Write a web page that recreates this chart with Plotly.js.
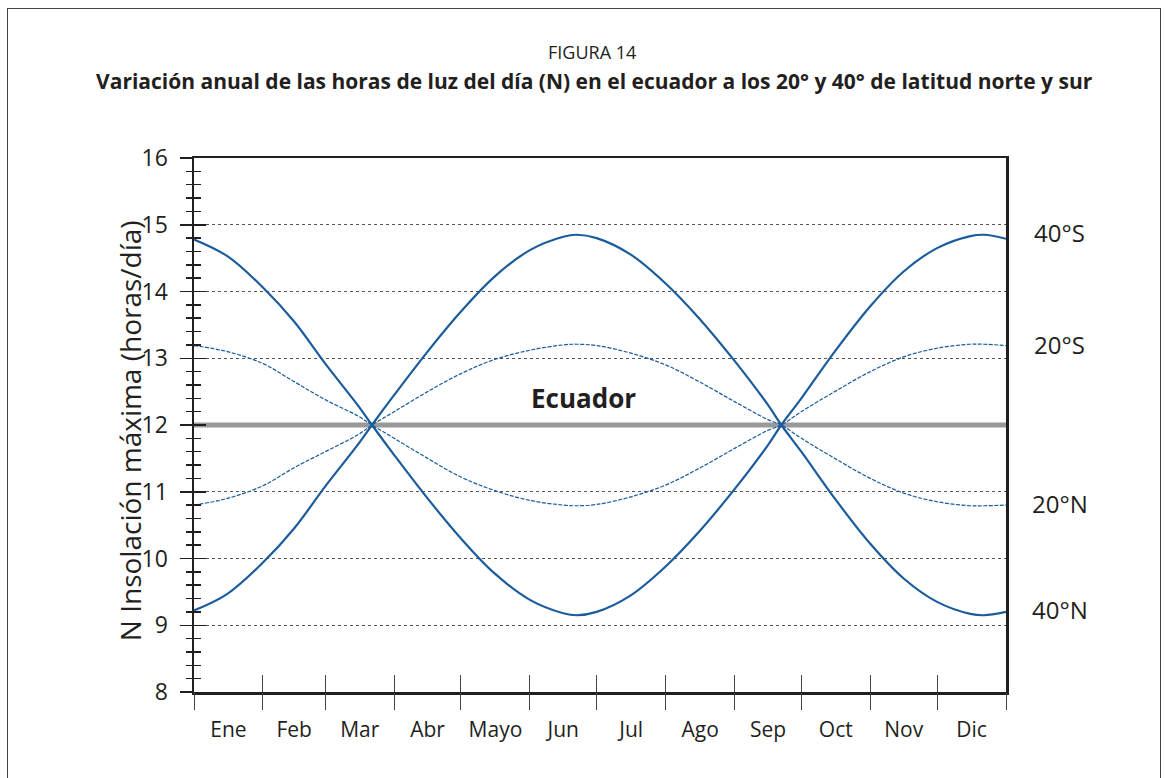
<!DOCTYPE html>
<html>
<head>
<meta charset="utf-8">
<script src="https://cdn.plot.ly/plotly-3.0.1.min.js"></script>
<style>
  html, body { margin: 0; padding: 0; background: #fff; }
  #chart { position: absolute; left: 0; top: 0; width: 1165px; height: 778px; }
  #frame { position: absolute; left: 7px; top: 8px; width: 1152px; height: 780px;
           border-top: 1.5px solid #444; border-left: 1.5px solid #444; border-right: 1.5px solid #444;
           pointer-events: none; }
</style>
</head>
<body>
<div id="chart"></div>
<div id="frame"></div>
<script>
// Day of year (0 = 1 Jan)
const days = [0, 15, 31, 45, 59, 74, 80, 90, 105, 120, 135, 151, 166, 172, 181, 196, 212, 227, 243, 258, 264, 273, 288, 304, 319, 334, 349, 355, 365];

// Daylight hours
const lat40S = [14.78, 14.53, 14.06, 13.55, 12.92, 12.28, 12.0, 11.55, 10.9, 10.3, 9.78, 9.38, 9.18, 9.15, 9.2, 9.44, 9.88, 10.4, 11.04, 11.7, 12.0, 12.4, 13.1, 13.78, 14.3, 14.65, 14.83, 14.85, 14.79];
const lat20S = [13.19, 13.1, 12.92, 12.65, 12.38, 12.13, 12.0, 11.8, 11.5, 11.22, 11.02, 10.87, 10.8, 10.79, 10.81, 10.92, 11.1, 11.35, 11.65, 11.92, 12.0, 12.2, 12.5, 12.8, 13.02, 13.15, 13.21, 13.21, 13.19];
const lat20N = [10.8, 10.9, 11.09, 11.36, 11.6, 11.86, 12.0, 12.2, 12.5, 12.77, 12.98, 13.12, 13.2, 13.21, 13.19, 13.08, 12.9, 12.65, 12.35, 12.08, 12.0, 11.8, 11.5, 11.2, 10.98, 10.85, 10.79, 10.79, 10.8];
const lat40N = [9.22, 9.47, 9.94, 10.45, 11.08, 11.72, 12.0, 12.45, 13.1, 13.7, 14.22, 14.62, 14.82, 14.85, 14.8, 14.56, 14.12, 13.6, 12.96, 12.3, 12.0, 11.6, 10.9, 10.22, 9.7, 9.35, 9.17, 9.15, 9.2];
const equatorDays = [0, 365];
const equator = [12, 12];

// Months
const monthNames = ["Ene", "Feb", "Mar", "Abr", "Mayo", "Jun", "Jul", "Ago", "Sep", "Oct", "Nov", "Dic"];
const monthBounds = [0, 31, 59, 90, 120, 151, 181, 212, 243, 273, 304, 334, 365];
const monthMids = monthBounds.slice(0, 12).map((b, i) => (b + monthBounds[i + 1]) / 2);

// Latitude labels (value where the label sits)
const latLabels = ["40°S", "20°S", "20°N", "40°N"];
const latLabelY = [14.88, 13.2, 10.83, 9.23];

const yTicks = [8, 9, 10, 11, 12, 13, 14, 15, 16];

const blue = "#1b5c9c";
const ink = "#231f20";
const FONT = "Open Sans, Noto Sans, sans-serif";

const traces = [
  { x: equatorDays, y: equator, mode: "lines", line: { color: "#999999", width: 5 }, hoverinfo: "skip" },
  { x: days, y: lat20S, mode: "lines", line: { color: blue, width: 1.2, dash: "4px,1.5px", shape: "spline" } },
  { x: days, y: lat20N, mode: "lines", line: { color: blue, width: 1.2, dash: "4px,1.5px", shape: "spline" } },
  { x: days, y: lat40S, mode: "lines", line: { color: blue, width: 2.2, shape: "spline" } },
  { x: days, y: lat40N, mode: "lines", line: { color: blue, width: 2.2, shape: "spline" } }
];

const annotations = latLabels.map((t, i) => ({
  text: t, xref: "paper", yref: "y", x: 1.066, y: latLabelY[i],
  xanchor: "center", yanchor: "middle", showarrow: false,
  font: { family: FONT, size: 24, color: ink }
}));
annotations.push({
  text: "<b>Ecuador</b>", xref: "x", yref: "y", x: 175, y: 12.4,
  xanchor: "center", yanchor: "middle", showarrow: false,
  font: { family: FONT, size: 26, color: ink }
});
annotations.push({
  text: "N Insolación máxima (horas/día)", xref: "paper", yref: "paper",
  x: -0.079, y: 0.49, textangle: -90, xanchor: "center", yanchor: "middle", showarrow: false,
  font: { family: FONT, size: 28, color: ink }
});
annotations.push({
  text: "FIGURA 14", xref: "paper", yref: "paper", x: 0.49, y: 1.199,
  xanchor: "center", yanchor: "middle", showarrow: false,
  font: { family: FONT, size: 18, color: ink }
});

const baseX = { range: [0, 365], fixedrange: true, showgrid: false, zeroline: false };

const layout = {
  width: 1165, height: 778,
  margin: { l: 194, r: 159, t: 157.5, b: 86 },
  paper_bgcolor: "#ffffff", plot_bgcolor: "#ffffff",
  showlegend: false,
  title: {
    text: "<b>Variación anual de las horas de luz del día (N) en el ecuador a los 20° y 40° de latitud norte y sur</b>",
    xref: "container", x: 0.51, xanchor: "center",
    yref: "container", y: 1 - 82 / 778, yanchor: "middle",
    font: { family: FONT, size: 21, color: ink }
  },
  xaxis: Object.assign({}, baseX, {
    tickmode: "array", tickvals: monthMids, ticktext: monthNames, ticks: "",
    ticklabelstandoff: 17,
    tickfont: { family: FONT, size: 21, color: ink },
    showline: true, linecolor: ink, linewidth: 2.5, mirror: true
  }),
  xaxis2: Object.assign({}, baseX, {
    overlaying: "x", side: "bottom", tickmode: "array", tickvals: monthBounds,
    showticklabels: false, ticks: "outside", ticklen: 17, tickwidth: 1, tickcolor: "#444", showline: false
  }),
  xaxis3: Object.assign({}, baseX, {
    overlaying: "x", side: "bottom", tickmode: "array", tickvals: monthBounds,
    showticklabels: false, ticks: "inside", ticklen: 17, tickwidth: 1, tickcolor: "#444", showline: false
  }),
  yaxis: {
    range: [8, 16], fixedrange: true, tickmode: "array", tickvals: yTicks,
    ticks: "outside", ticklen: 12, tickwidth: 1.5, tickcolor: ink,
    minor: { dtick: 0.2, tick0: 8, ticks: "outside", ticklen: 6, tickwidth: 1.5, tickcolor: ink, showgrid: false },
    ticklabelstandoff: 7,
    tickfont: { family: FONT, size: 23, color: ink },
    showgrid: true, gridcolor: "#555555", gridwidth: 1, griddash: "dot",
    zeroline: false, showline: true, linecolor: ink, linewidth: 2.5, mirror: true
  },
  yaxis2: {
    range: [8, 16], fixedrange: true, overlaying: "y", side: "left",
    tickmode: "array", tickvals: yTicks, showticklabels: false,
    ticks: "inside", ticklen: 12, tickwidth: 1.5, tickcolor: ink,
    minor: { dtick: 0.2, tick0: 8, ticks: "inside", ticklen: 7, tickwidth: 1.5, tickcolor: ink, showgrid: false },
    showgrid: false, zeroline: false, showline: false
  },
  annotations: annotations
};

// Invisible helper traces to activate the overlay tick axes
traces.push({ x: [0], y: [8], xaxis: "x2", yaxis: "y2", mode: "markers", marker: { opacity: 0 }, hoverinfo: "skip" });
traces.push({ x: [0], y: [8], xaxis: "x3", yaxis: "y", mode: "markers", marker: { opacity: 0 }, hoverinfo: "skip" });

Plotly.newPlot("chart", traces, layout, { staticPlot: true, displayModeBar: false });
</script>
</body>
</html>
